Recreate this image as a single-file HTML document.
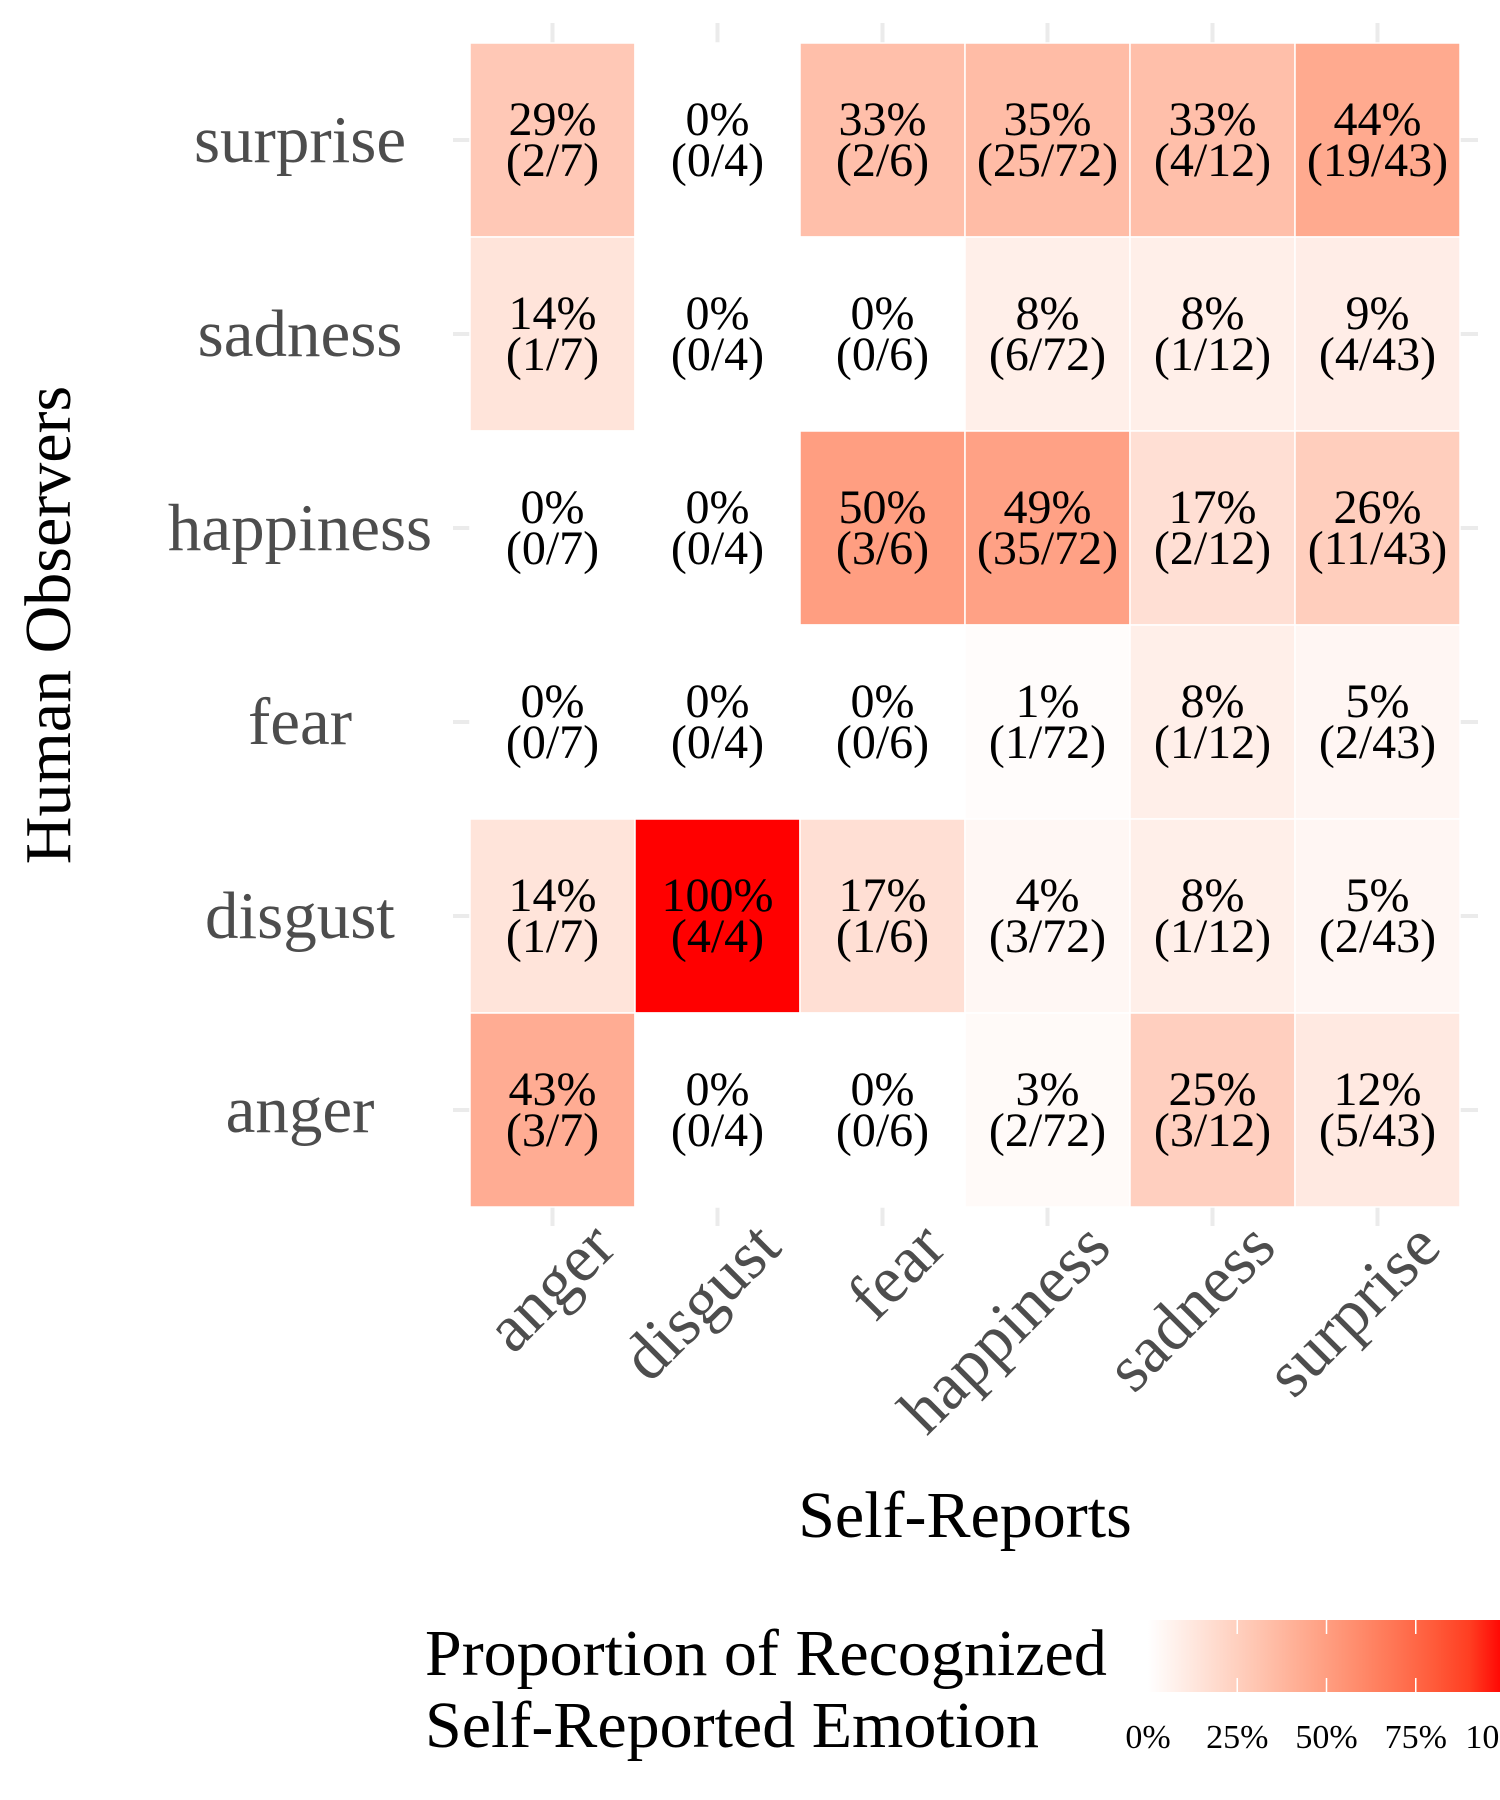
<!DOCTYPE html>
<html><head><meta charset="utf-8"><style>
html,body{margin:0;padding:0;background:#fff;}
svg{display:block;font-family:"Liberation Serif",serif;}
</style></head><body>
<svg id="chart" width="1500" height="1800" viewBox="0 0 1500 1800">
<defs>
<linearGradient id="lg" x1="0" x2="1" y1="0" y2="0"></linearGradient>
</defs>
<g id="grid"></g>
<g id="tiles"></g>
<g id="ylabels"></g>
<g id="xlabels"></g>
<text x="965" y="1537" font-size="66" text-anchor="middle" fill="#000">Self-Reports</text>
<text transform="translate(70,625) rotate(-90)" font-size="66" text-anchor="middle" fill="#000">Human Observers</text>
<g>
<text font-size="66" fill="#000"><tspan x="425" y="1675">Proportion of Recognized</tspan><tspan x="425" y="1747">Self-Reported Emotion</tspan></text>
<rect x="1148" y="1620" width="360" height="72" fill="url(#lg)"/>
<g id="legticks"></g>
</g>
</svg>
<script>
const rowCats = ["surprise","sadness","happiness","fear","disgust","anger"];
const colCats = ["anger","disgust","fear","happiness","sadness","surprise"];
const colTotals = [7,4,6,72,12,43];
const rowSurprise = [2,0,2,25,4,19];
const rowSadness = [1,0,0,6,1,4];
const rowHappiness = [0,0,3,35,2,11];
const rowFear = [0,0,0,1,1,2];
const rowDisgust = [1,4,1,3,1,2];
const rowAnger = [3,0,0,2,3,5];
const legendTicks = [0,0.25,0.5,0.75,1];
const legendLabels = ["0%","25%","50%","75%","100%"];

const counts = [rowSurprise,rowSadness,rowHappiness,rowFear,rowDisgust,rowAnger];
const NS="http://www.w3.org/2000/svg";
const X0=470, CW=165, Y0=43, RH=194;
const xC = i => X0 + CW*i + CW/2;
const yC = j => Y0 + RH*j + RH/2;
const legX = v => 1148 + v*357;

function lab2rgb(L,a,b){
  let fy=(L+16)/116, fx=fy+a/500, fz=fy-b/200;
  const f=t=>t**3>0.008856?t**3:(t-16/116)/7.787;
  let X=0.95047*f(fx),Y=1*f(fy),Z=1.08883*f(fz);
  let r=3.2406*X-1.5372*Y-0.4986*Z, g=-0.9689*X+1.8758*Y+0.0415*Z, bb=0.0557*X-0.2040*Y+1.0570*Z;
  const c=v=>{v=v>0.0031308?1.055*Math.pow(v,1/2.4)-0.055:12.92*v;return Math.round(Math.max(0,Math.min(1,v))*255);};
  return `rgb(${c(r)},${c(g)},${c(bb)})`;
}
function color(t){return lab2rgb(100-46.76*t,80.09*t,67.2*t);}
function mk(tag,attrs,parent){const e=document.createElementNS(NS,tag);for(const k in attrs)e.setAttribute(k,attrs[k]);parent.appendChild(e);return e;}

const grid=document.getElementById('grid');
colCats.forEach((c,i)=>{const l=mk('line',{x1:xC(i),x2:xC(i),y1:23,y2:1226,stroke:'#EBEBEB','stroke-width':4},grid);

});
rowCats.forEach((r,j)=>{const l=mk('line',{x1:453,x2:1478,y1:yC(j),y2:yC(j),stroke:'#EBEBEB','stroke-width':4},grid);

});

const tiles=document.getElementById('tiles');
counts.forEach((row,j)=>{row.forEach((n,i)=>{
  const p=n/colTotals[i];
  const g=mk('g',{},tiles);
  
  
  mk('rect',{x:X0+CW*i,y:Y0+RH*j,width:CW,height:RH,fill:color(p),stroke:'#fff','stroke-width':1.5},g);
  const t=mk('text',{x:xC(i),'font-size':48,'text-anchor':'middle',fill:'#000'},g);
  const a=mk('tspan',{x:xC(i),y:yC(j)-5},t);a.textContent=Math.round(p*100)+'%';
  const b=mk('tspan',{x:xC(i),y:yC(j)+36},t);b.textContent='('+n+'/'+colTotals[i]+')';
});});

const yl=document.getElementById('ylabels');
rowCats.forEach((r,j)=>{const t=mk('text',{x:300,y:yC(j)+22,'font-size':67,'text-anchor':'middle',fill:'#4D4D4D'},yl);t.textContent=r;

});
const xl=document.getElementById('xlabels');
colCats.forEach((c,i)=>{const x=xC(i)+66,y=1250;const t=mk('text',{x:x,y:y,'font-size':67,'text-anchor':'end',fill:'#4D4D4D',transform:`rotate(-45 ${x} ${y})`},xl);t.textContent=c;

});

const lg=document.getElementById('lg');
for(let k=0;k<=10;k++){mk('stop',{offset:(k/10*357/360),'stop-color':color(k/10)},lg);}
const lt=document.getElementById('legticks');
legendTicks.forEach((v,k)=>{
  if(v>0&&v<1){mk('line',{x1:legX(v),x2:legX(v),y1:1620,y2:1634,stroke:'#fff','stroke-width':1.5},lt);
  mk('line',{x1:legX(v),x2:legX(v),y1:1678,y2:1692,stroke:'#fff','stroke-width':1.5},lt);}
  const t=mk('text',{x:legX(v),y:1748,'font-size':34,'text-anchor':'middle',fill:'#000'},lt);t.textContent=legendLabels[k];
  
  
});
</script>
</body></html>
